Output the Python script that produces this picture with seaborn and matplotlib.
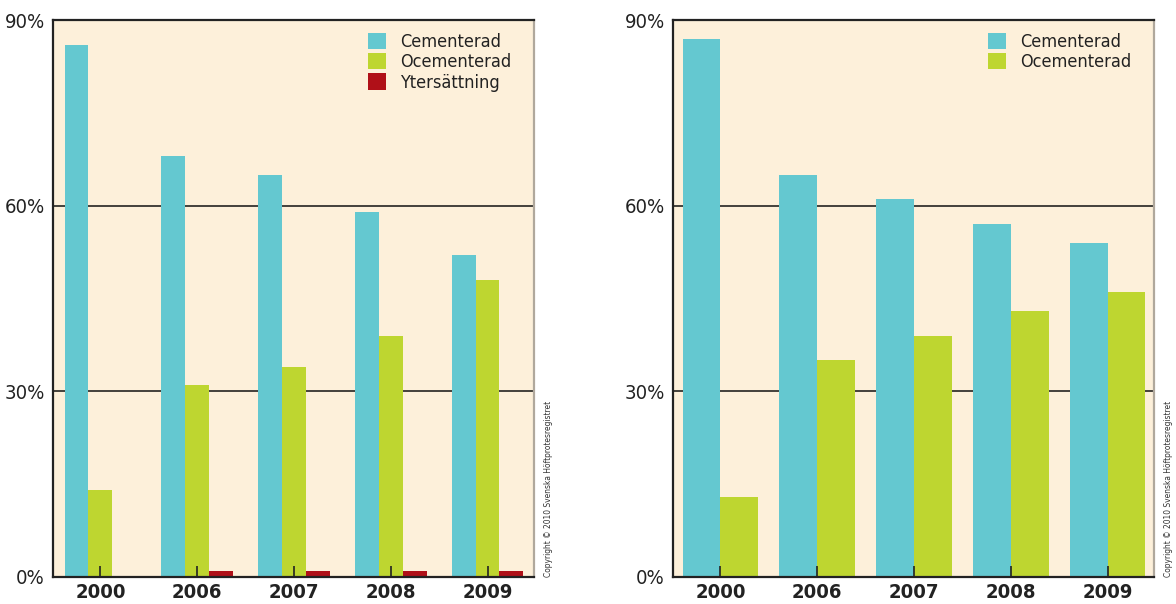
import pandas as pd
import seaborn as sns
import matplotlib.pyplot as plt
from matplotlib.ticker import FixedLocator

years = ['2000', '2006', '2007', '2008', '2009']

# left panel
left_cement = [86, 68, 65, 59, 52]
left_ocement = [14, 31, 34, 39, 48]
left_ytters = [0, 1, 1, 1, 1]

# right panel
right_cement = [87, 65, 61, 57, 54]
right_ocement = [13, 35, 39, 43, 46]

series_names = ['Cementerad', 'Ocementerad', 'Ytersättning']
colors = {'Cementerad': '#64c8d0', 'Ocementerad': '#bed630', 'Ytersättning': '#b01018'}
yticks = [0, 30, 60, 90]
copyright_text = 'Copyright © 2010 Svenska Höftprotesregistret'

sns.set_theme(style='white')
plt.rcParams['font.family'] = ['DejaVu Sans']
plt.rcParams['font.stretch'] = 'condensed'


def long_df(series):
    rows = []
    for name, vals in series:
        for y, v in zip(years, vals):
            rows.append({'År': y, 'Typ': name, 'Andel': v})
    return pd.DataFrame(rows)


def draw_panel(ax, df, names, width):
    ax.set_facecolor('#fdf0da')
    sns.barplot(data=df, x='År', y='Andel', hue='Typ', order=years, hue_order=names,
                palette=colors, width=width, gap=0, saturation=1, linewidth=0,
                errorbar=None, ax=ax)
    ax.set_axisbelow(False)
    ax.set_ylim(0, 90)
    ax.set_xlim(-0.49, 4.48)
    ax.yaxis.set_major_locator(FixedLocator(yticks))
    ax.set_yticklabels([f'{t}%' for t in yticks], fontsize=14.5, color='#222222')
    ax.set_xticks(range(len(years)))
    ax.set_xticklabels(years, fontsize=14.5, fontweight='bold', color='#222222')
    ax.tick_params(axis='x', direction='in', length=8, width=1.2, color='#222222', pad=4, bottom=True)
    ax.tick_params(axis='y', length=0, pad=6)
    for g in [30, 60]:
        ax.axhline(g, color='#111111', lw=1.1, zorder=0.5)
    for s in ['left', 'bottom', 'top']:
        ax.spines[s].set_color('#222222')
        ax.spines[s].set_linewidth(1.6)
    ax.spines['right'].set_color('#b0a89c')
    ax.spines['right'].set_linewidth(1.6)
    ax.set_xlabel('')
    ax.set_ylabel('')
    leg = ax.legend(loc='upper right', frameon=False, fontsize=13, handlelength=1.0,
                    handleheight=1.0, handletextpad=0.8, labelspacing=0.12,
                    borderaxespad=0.3, bbox_to_anchor=(0.98, 1.0))
    for t in leg.get_texts():
        t.set_color('#222222')
    ax.text(1.03, 0.0, copyright_text, transform=ax.transAxes, rotation=90,
            fontsize=6, color='#333333', ha='center', va='bottom')


fig = plt.figure(figsize=(11.76, 6.04), dpi=100)
ax1 = fig.add_axes([53 / 1176, 27 / 604, 481 / 1176, 557 / 604])
ax2 = fig.add_axes([673 / 1176, 27 / 604, 481 / 1176, 557 / 604])

df_left = long_df([('Cementerad', left_cement), ('Ocementerad', left_ocement),
                   ('Ytersättning', left_ytters)])
df_right = long_df([('Cementerad', right_cement), ('Ocementerad', right_ocement)])

draw_panel(ax1, df_left, series_names, 0.74)
draw_panel(ax2, df_right, series_names[:2], 0.78)

fig.savefig('out.png', dpi=100)
